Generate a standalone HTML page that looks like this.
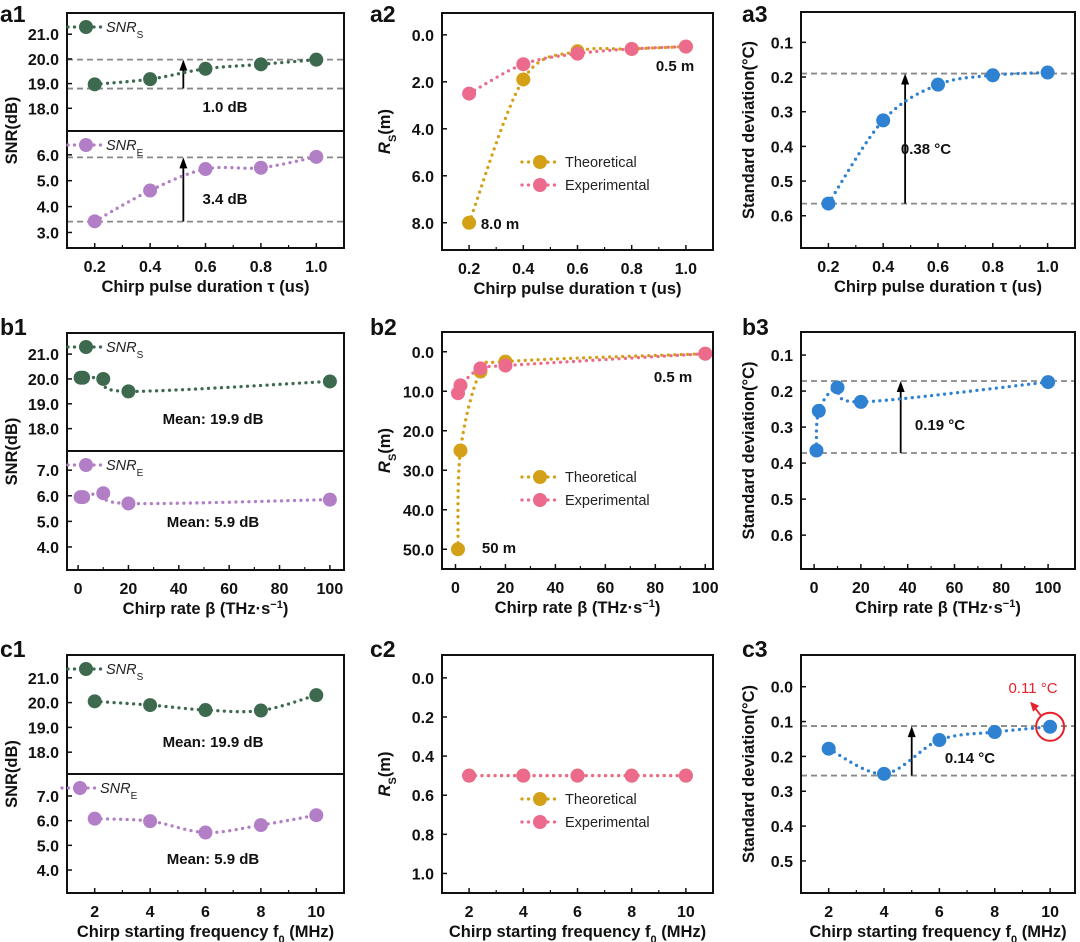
<!DOCTYPE html>
<html><head><meta charset="utf-8"><style>
html,body{margin:0;padding:0;background:#fff}
svg{display:block;font-family:"Liberation Sans",Arial,sans-serif}
.tk{font-size:16px;font-weight:bold;fill:#111}
.ttl{font-size:16.5px;font-weight:bold;fill:#111}
.pl{font-size:23px;font-weight:bold;fill:#111}
.an{font-size:15px;font-weight:bold;fill:#111}
.lg{font-size:14.5px;fill:#222}
</style></head><body>
<svg id="fig" width="1080" height="942" viewBox="0 0 1080 942" xmlns="http://www.w3.org/2000/svg"></svg>
<script>
// ---------- data ----------
const tauX = [0.2, 0.4, 0.6, 0.8, 1.0];
const betaX = [1, 2, 10, 20, 100];
const f0X = [2, 4, 6, 8, 10];
const a1SnrS = [18.97, 19.18, 19.6, 19.78, 19.97];
const a1SnrE = [3.43, 4.62, 5.45, 5.5, 5.92];
const b1SnrS = [20.05, 20.05, 20.0, 19.5, 19.9];
const b1SnrE = [5.95, 5.95, 6.1, 5.7, 5.85];
const c1SnrS = [20.05, 19.9, 19.7, 19.68, 20.3];
const c1SnrE = [6.08, 5.98, 5.52, 5.82, 6.22];
const a2Theo = [8.0, 1.9, 0.7, 0.6, 0.5];
const a2Exp = [2.5, 1.25, 0.8, 0.6, 0.5];
const b2Theo = [50, 25, 5, 2.5, 0.5];
const b2Exp = [10.5, 8.5, 4.2, 3.5, 0.5];
const c2Theo = [0.5, 0.5, 0.5, 0.5, 0.5];
const c2Exp = [0.5, 0.5, 0.5, 0.5, 0.5];
const a3Std = [0.565, 0.325, 0.222, 0.195, 0.187];
const b3Std = [0.365, 0.255, 0.19, 0.23, 0.175];
const c3Std = [0.178, 0.25, 0.153, 0.13, 0.115];
const tauTicks = [0.2, 0.4, 0.6, 0.8, 1.0];
const betaTicks = [0, 20, 40, 60, 80, 100];
const f0Ticks = [2, 4, 6, 8, 10];
const snrSTicks = [18, 19, 20, 21];
const a1ETicks = [3, 4, 5, 6];
const bcETicks = [4, 5, 6, 7];
const a2Ticks = [0, 2, 4, 6, 8];
const b2Ticks = [0, 10, 20, 30, 40, 50];
const c2Ticks = [0, 0.2, 0.4, 0.6, 0.8, 1.0];
const a3Ticks = [0.1, 0.2, 0.3, 0.4, 0.5, 0.6];
const c3Ticks = [0.0, 0.1, 0.2, 0.3, 0.4, 0.5];

const C = {g:'#3d6a4e', p:'#b27fc6', y:'#d4a018', r:'#ec6a8c', b:'#2f82d2'};
const NS = 'http://www.w3.org/2000/svg';
const svg = document.getElementById('fig');
function mk(tag, attrs, parent, text){
  const e = document.createElementNS(NS, tag);
  for (const k in attrs) e.setAttribute(k, attrs[k]);
  if (text !== undefined) e.textContent = text;
  (parent || svg).appendChild(e);
  return e;
}
function sx(p, v){ return p.l + (v - p.x0) / (p.x1 - p.x0) * (p.r - p.l); }
function sy(s, v){ return s.t + (v - s.y0) / (s.y1 - s.y0) * (s.b - s.t); }
function smooth(pts){
  let d = 'M' + pts[0][0] + ',' + pts[0][1];
  for (let i = 0; i < pts.length - 1; i++){
    const p0 = pts[Math.max(0, i-1)], p1 = pts[i], p2 = pts[i+1], p3 = pts[Math.min(pts.length-1, i+2)];
    const c1 = [p1[0] + (p2[0]-p0[0])/6, p1[1] + (p2[1]-p0[1])/6];
    const c2 = [p2[0] - (p3[0]-p1[0])/6, p2[1] - (p3[1]-p1[1])/6];
    d += ' C' + c1 + ' ' + c2 + ' ' + p2;
  }
  return d;
}
function series(p, s, xs, ys, color, name){
  const g = mk('g', {});
  
  
  const pts = xs.map((x, i) => [sx(p, x), sy(s, ys[i])]);
  const path = mk('path', {d: smooth(pts), fill:'none', stroke:color, 'stroke-width':3.3, 'stroke-linecap':'round', 'stroke-dasharray':'0 6.5'}, g);
  
  
  pts.forEach((pt, i) => {
    const c = mk('circle', {cx:pt[0], cy:pt[1], r:7, fill:color}, g);
    
    
  });
}
function hdash(p, s, v){
  const l = mk('line', {x1:p.l, x2:p.r, y1:sy(s, v), y2:sy(s, v), stroke:'#888', 'stroke-width':1.8, 'stroke-dasharray':'6 4'});
  
  
}
function arrow(p, s, xv, from, to){
  const x = sx(p, xv), y1 = sy(s, from), y2 = sy(s, to);
  const l = mk('line', {x1:x, x2:x, y1:y1, y2:y2 + 10, stroke:'#000', 'stroke-width':1.8});
  
  
  const h = mk('path', {d:`M${x-4},${y2+11} L${x},${y2} L${x+4},${y2+11} Z`, fill:'#000'});
  
  
}
function text(x, y, cls, str, name, anchor, extra){
  const t = mk('text', Object.assign({x:x, y:y, class:cls, 'text-anchor':anchor || 'start'}, extra || {}), svg, str);
  
  
  return t;
}
function frame(p){
  const r = mk('rect', {x:p.l, y:p.t, width:p.r-p.l, height:p.b-p.t, fill:'none', stroke:'#111', 'stroke-width':2});
  
  
}
function xaxis(p, ticks, fmt, title){
  const ty = p.b + 24;
  ticks.forEach((v, i) => {
    const x = sx(p, v);
    mk('line', {x1:x, x2:x, y1:p.b, y2:p.b-5, stroke:'#111', 'stroke-width':1.5});
    text(x, ty, 'tk', fmt(v), 'x-tick-label', 'middle');
    if (i < ticks.length - 1){
      const m = sx(p, (v + ticks[i+1]) / 2);
      mk('line', {x1:m, x2:m, y1:p.b, y2:p.b-3, stroke:'#111', 'stroke-width':1.2});
    }
  });
  const t = text((p.l + p.r)/2, p.b + 44, 'ttl', '', 'x-axis-title', 'middle');
  title(t);
}
function yaxis(p, s, ticks, fmt){
  ticks.forEach(v => {
    const y = sy(s, v);
    mk('line', {x1:p.l, x2:p.l+5, y1:y, y2:y, stroke:'#111', 'stroke-width':1.5});
    text(p.l - 8, y + 6, 'tk', fmt(v), 'y-tick-label', 'end');
  });
}
function tsp(t, str, attrs){ const e = mk('tspan', attrs || {}, t, str); return e; }
function tauTitle(t){ tsp(t, 'Chirp pulse duration τ (us)'); }
function betaTitle(t){ tsp(t, 'Chirp rate β (THz·s'); tsp(t, '−1', {'baseline-shift':'super','font-size':'11px'}); tsp(t, ')'); }
function f0Title(t){ tsp(t, 'Chirp starting frequency f'); tsp(t, '0', {'baseline-shift':'sub','font-size':'11px'}); tsp(t, ' (MHz)'); }
const f1 = v => v.toFixed(1), f0 = v => String(v);
function ytitle(x, yc, build){
  const t = text(0, 0, 'ttl', '', 'y-axis-title', 'middle', {transform:`translate(${x},${yc}) rotate(-90)`});
  build(t);
}
function legendEntry(x, y, color, build, name, gap){
  const g = mk('g', {});
  
  
  mk('line', {x1:x-18, x2:x+18, y1:y, y2:y, stroke:color, 'stroke-width':3.3, 'stroke-linecap':'round', 'stroke-dasharray':'0 6.5'}, g);
  mk('circle', {cx:x, cy:y, r:7, fill:color}, g);
  const t = mk('text', {x:x+(gap||25), y:y+5, class:'lg'}, g);
  build(t);
}
function snrLeg(t, sub){ tsp(t, 'SNR', {'font-style':'italic'}); tsp(t, sub, {'baseline-shift':'sub','font-size':'10px'}); }
function rsTitle(t){ tsp(t, 'R', {'font-style':'italic'}); tsp(t, 'S', {'baseline-shift':'sub','font-size':'11px'}); tsp(t, '(m)'); }

// ---------- column 1: SNR ----------
const col1 = [
  {row:'a', p:{l:67,r:344,t:13,b:248,x0:0.1,x1:1.1}, top:{t:13,b:131,y0:21.86,y1:17.08}, bot:{t:131,b:248,y0:6.92,y1:2.4}, xs:tauX, S:a1SnrS, E:a1SnrE, xt:tauTicks, xf:f1, title:tauTitle, eT:a1ETicks, ly:22},
  {row:'b', p:{l:67,r:344,t:333,b:570,x0:-4.4,x1:105.6}, top:{t:333,b:451,y0:21.85,y1:17.1}, bot:{t:451,b:570,y0:7.75,y1:3.1}, xs:betaX, S:b1SnrS, E:b1SnrE, xt:betaTicks, xf:f0, title:betaTitle, eT:bcETicks, ly:335},
  {row:'c', p:{l:67,r:344,t:655,b:893,x0:1,x1:11}, top:{t:655,b:774,y0:21.92,y1:17.12}, bot:{t:774,b:893,y0:7.89,y1:3.07}, xs:f0X, S:c1SnrS, E:c1SnrE, xt:f0Ticks, xf:f0, title:f0Title, eT:bcETicks, ly:657}
];
col1.forEach(c => {
  const p = c.p;
  text(0, c.ly, 'pl', c.row + '1', 'panel-label-' + c.row + '1');
  if (c.row === 'a'){
    hdash(p, c.top, 19.97); hdash(p, c.top, 18.8);
    hdash(p, c.bot, 5.9); hdash(p, c.bot, 3.42);
    arrow(p, c.top, 0.52, 18.8, 19.97);
    arrow(p, c.bot, 0.52, 3.42, 5.9);
    text(225, 112, 'an', '1.0 dB', 'annotation-snrs-gain', 'middle');
    text(225, 204, 'an', '3.4 dB', 'annotation-snre-gain', 'middle');
  } else {
    const y1 = c.row === 'b' ? 424 : 747, y2 = c.row === 'b' ? 527 : 864;
    text(213, y1, 'an', 'Mean: 19.9 dB', 'annotation-snrs-mean', 'middle');
    text(213, y2, 'an', 'Mean: 5.9 dB', 'annotation-snre-mean', 'middle');
  }
  series(p, c.top, c.xs, c.S, C.g, 'snr-s-series-' + c.row);
  series(p, c.bot, c.xs, c.E, C.p, 'snr-e-series-' + c.row);
  frame(p);
  mk('line', {x1:p.l, x2:p.r, y1:c.top.b, y2:c.top.b, stroke:'#111', 'stroke-width':2});
  yaxis(p, c.top, snrSTicks, f1);
  yaxis(p, c.bot, c.eT, f1);
  xaxis(p, c.xt, c.xf, c.title);
  legendEntry(86, c.top.t + 14, C.g, t => snrLeg(t, 'S'), 'legend-snr-s', 20);
  legendEntry(c.row === 'c' ? 80 : 86, c.bot.t + 14, C.p, t => snrLeg(t, 'E'), 'legend-snr-e', 20);
  ytitle(17, (p.t + p.b)/2, t => tsp(t, 'SNR(dB)'));
});

// ---------- column 2: Rs ----------
const col2 = [
  {row:'a', p:{l:442,r:713,t:13,b:250,x0:0.1,x1:1.1}, s:{t:13,b:250,y0:-0.93,y1:9.16}, xs:tauX, T:a2Theo, E:a2Exp, xt:tauTicks, xf:f1, yt:a2Ticks, title:tauTitle, ly:22, leg:162},
  {row:'b', p:{l:442,r:713,t:332,b:569,x0:-5.4,x1:103.1}, s:{t:332,b:569,y0:-5,y1:55}, xs:betaX, T:b2Theo, E:b2Exp, xt:betaTicks, xf:f0, yt:b2Ticks, title:betaTitle, ly:335, leg:477},
  {row:'c', p:{l:442,r:713,t:655,b:893,x0:1,x1:11}, s:{t:655,b:893,y0:-0.117,y1:1.1}, xs:f0X, T:c2Theo, E:c2Exp, xt:f0Ticks, xf:f0, yt:c2Ticks, title:f0Title, ly:657, leg:799}
];
col2.forEach(c => {
  const p = c.p;
  text(370, c.ly, 'pl', c.row + '2', 'panel-label-' + c.row + '2');
  series(p, c.s, c.xs, c.T, C.y, 'theoretical-series-' + c.row);
  series(p, c.s, c.xs, c.E, C.r, 'experimental-series-' + c.row);
  frame(p);
  yaxis(p, c.s, c.yt, f1);
  xaxis(p, c.xt, c.xf, c.title);
  legendEntry(540, c.leg, C.y, t => tsp(t, 'Theoretical'), 'legend-theoretical');
  legendEntry(540, c.leg + 23, C.r, t => tsp(t, 'Experimental'), 'legend-experimental');
  ytitle(390, (p.t + p.b)/2, rsTitle);
});
text(500, 229, 'an', '8.0 m', 'annotation-a2-max', 'middle');
text(675, 71, 'an', '0.5 m', 'annotation-a2-min', 'middle');
text(499, 553, 'an', '50 m', 'annotation-b2-max', 'middle');
text(673, 382, 'an', '0.5 m', 'annotation-b2-min', 'middle');

// ---------- column 3: std ----------
const col3 = [
  {row:'a', p:{l:801,r:1075,t:12,b:248,x0:0.1,x1:1.1}, s:{t:12,b:248,y0:0.0125,y1:0.693}, xs:tauX, v:a3Std, xt:tauTicks, xf:f1, yt:a3Ticks, title:tauTitle, ly:22},
  {row:'b', p:{l:801,r:1075,t:332,b:569,x0:-5.6,x1:111.5}, s:{t:332,b:569,y0:0.036,y1:0.694}, xs:betaX, v:b3Std, xt:betaTicks, xf:f0, yt:a3Ticks, title:betaTitle, ly:335},
  {row:'c', p:{l:801,r:1075,t:655,b:893,x0:1,x1:10.9}, s:{t:655,b:893,y0:-0.091,y1:0.592}, xs:f0X, v:c3Std, xt:f0Ticks, xf:f0, yt:c3Ticks, title:f0Title, ly:657}
];
const refs = {a:[0.19, 0.565, 0.48, '0.38 °C', 926, 154], b:[0.172, 0.372, 37, '0.19 °C', 940, 430], c:[0.113, 0.255, 5, '0.14 °C', 970, 763]};
col3.forEach(c => {
  const p = c.p, r = refs[c.row];
  text(742, c.ly, 'pl', c.row + '3', 'panel-label-' + c.row + '3');
  hdash(p, c.s, r[0]); hdash(p, c.s, r[1]);
  arrow(p, c.s, r[2], r[1], r[0]);
  text(r[4], r[5], 'an', r[3], 'annotation-std-improvement', 'middle');
  series(p, c.s, c.xs, c.v, C.b, 'std-series-' + c.row);
  frame(p);
  yaxis(p, c.s, c.yt, f1);
  xaxis(p, c.xt, c.xf, c.title);
  ytitle(754, (p.t + p.b)/2, t => tsp(t, 'Standard deviation(°C)'));
});
// highlight on c3 best point
(function(){
  const c = col3[2];
  const x = sx(c.p, f0X[4]), y = sy(c.s, c3Std[4]);
  const ring = mk('circle', {cx:x, cy:y, r:14, fill:'none', stroke:'#e8202a', 'stroke-width':2});
  
  
  const ar = mk('line', {x1:x-9, y1:y-11, x2:x-16, y2:y-20, stroke:'#e8202a', 'stroke-width':1.8});
  
  
  const hd = mk('path', {d:`M${x-20},${y-25} L${x-11},${y-21} L${x-17},${y-15} Z`, fill:'#e8202a'});
  
  
  const t = text(1033, 693, 'lg', '0.11 °C', 'annotation-best-std', 'middle', {fill:'#e8202a'});
  t.style.fill = '#e8202a'; t.style.fontSize = '15px';
})();
</script>
</body></html>
